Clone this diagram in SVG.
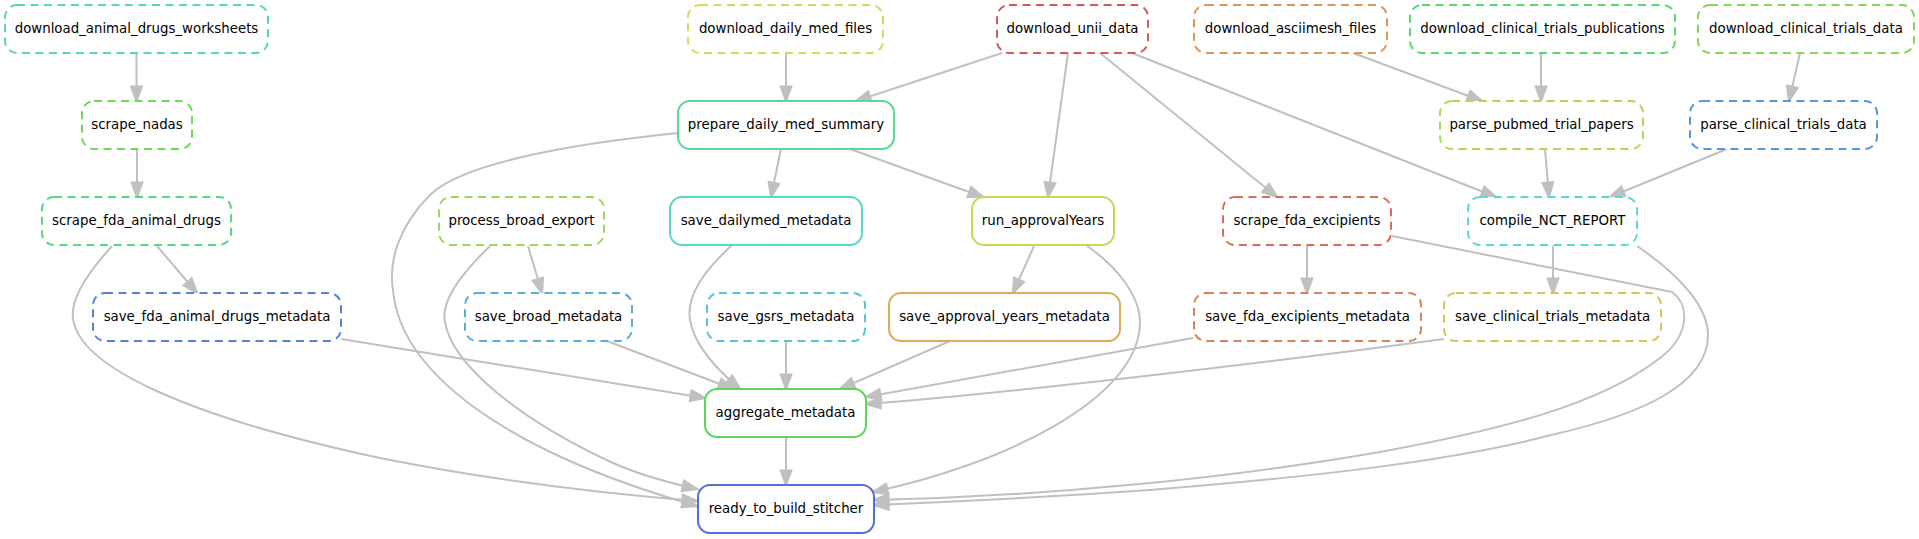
<svg xmlns="http://www.w3.org/2000/svg" width="1919" height="539" viewBox="0 0 1919 539">
<style>
.n rect{fill:#fff;stroke-width:2}
.d rect{stroke-dasharray:8,5.5}
.n text{font-family:"DejaVu Sans",sans-serif;font-size:13.33px;fill:#000;text-anchor:middle}
.e path{fill:none;stroke:#c0c0c0;stroke-width:2}
</style>
<defs>
<marker id="ah" markerUnits="userSpaceOnUse" markerWidth="20" markerHeight="20" refX="13" refY="0" orient="auto" viewBox="-2 -8 18 16" overflow="visible">
<polygon points="0,-4.7 13,0 0,4.7" fill="#c0c0c0" stroke="#c0c0c0" stroke-width="2"/>
</marker>
</defs>
<rect width="1919" height="539" fill="#fff"/>
<g id="edges" class="e" marker-end="url(#ah)">
<path d="M136.5,53 L136.5,101" marker-end="url(#ah)"/>
<path d="M137,149 L137,197" marker-end="url(#ah)"/>
<path d="M157,246 L197,293" marker-end="url(#ah)"/>
<path d="M112,246 C95,265 70,295 73,318 C78,365 180,415 380,458 C500,482 620,495 697,501" marker-end="url(#ah)"/>
<path d="M341,339 L705,398" marker-end="url(#ah)"/>
<path d="M528,246 L542,293" marker-end="url(#ah)"/>
<path d="M490,246 C465,270 440,300 445,322 C452,365 520,420 613,463 C640,475 670,483 697,489" marker-end="url(#ah)"/>
<path d="M607,341 L733,389" marker-end="url(#ah)"/>
<path d="M786,53 L786,101" marker-end="url(#ah)"/>
<path d="M1002,53 L856,101" marker-end="url(#ah)"/>
<path d="M1068,53 L1048,197" marker-end="url(#ah)"/>
<path d="M1100,53 L1277,197" marker-end="url(#ah)"/>
<path d="M1132,53 L1496,197" marker-end="url(#ah)"/>
<path d="M678,133 C560,145 460,165 430,195 C400,225 388,260 393,290 C400,370 500,450 697,506" marker-end="url(#ah)"/>
<path d="M781,149 L771,197" marker-end="url(#ah)"/>
<path d="M850,149 L983,197" marker-end="url(#ah)"/>
<path d="M732,245 C705,270 686,295 690,320 C694,345 715,368 740,389" marker-end="url(#ah)"/>
<path d="M786,341 L786,389" marker-end="url(#ah)"/>
<path d="M1034,246 L1013,293" marker-end="url(#ah)"/>
<path d="M1087,246 C1115,265 1140,295 1140,322 C1140,400 1000,465 873,492" marker-end="url(#ah)"/>
<path d="M950,341 L840,389" marker-end="url(#ah)"/>
<path d="M1353,53 L1482,101" marker-end="url(#ah)"/>
<path d="M1541,53 L1541,101" marker-end="url(#ah)"/>
<path d="M1800,53 L1789,101" marker-end="url(#ah)"/>
<path d="M1545,149 L1549,197" marker-end="url(#ah)"/>
<path d="M1727,149 L1610,197" marker-end="url(#ah)"/>
<path d="M1307,246 L1307,293" marker-end="url(#ah)"/>
<path d="M1392,236 L1672,292 C1690,305 1690,335 1660,358 C1600,405 1500,430 1380,452 C1230,478 1050,496 874,500" marker-end="url(#ah)"/>
<path d="M1193,338 L866,397" marker-end="url(#ah)"/>
<path d="M1553,246 L1553,293" marker-end="url(#ah)"/>
<path d="M1637,246 C1665,265 1708,300 1708,335 C1708,385 1640,415 1551,435 C1450,462 1300,478 1150,490 C1050,497 950,502 874,505" marker-end="url(#ah)"/>
<path d="M1444,339 C1250,365 1000,394 866,404" marker-end="url(#ah)"/>
<path d="M786,437 L786,485" marker-end="url(#ah)"/>
</g>
<g id="download_animal_drugs_worksheets" class="n d"><rect x="5" y="5" width="263" height="48" rx="12" stroke="#57d9ae"/><text x="136.5" y="33">download_animal_drugs_worksheets</text></g>
<g id="scrape_nadas" class="n d"><rect x="82" y="101" width="110" height="48" rx="12" stroke="#6dd957"/><text x="137" y="129">scrape_nadas</text></g>
<g id="scrape_fda_animal_drugs" class="n d"><rect x="42" y="197" width="189" height="48" rx="12" stroke="#57d982"/><text x="136.5" y="225">scrape_fda_animal_drugs</text></g>
<g id="save_fda_animal_drugs_metadata" class="n d"><rect x="93" y="293" width="248" height="48" rx="12" stroke="#5782d9"/><text x="217" y="321">save_fda_animal_drugs_metadata</text></g>
<g id="process_broad_export" class="n d"><rect x="439" y="197" width="165" height="48" rx="12" stroke="#98d957"/><text x="521.5" y="225">process_broad_export</text></g>
<g id="save_broad_metadata" class="n d"><rect x="465" y="293" width="167" height="48" rx="12" stroke="#57aed9"/><text x="548.5" y="321">save_broad_metadata</text></g>
<g id="download_daily_med_files" class="n d"><rect x="688" y="5" width="195" height="48" rx="12" stroke="#d9d957"/><text x="785.5" y="33">download_daily_med_files</text></g>
<g id="prepare_daily_med_summary" class="n"><rect x="678" y="101" width="216" height="48" rx="12" stroke="#57d998"/><text x="786" y="129">prepare_daily_med_summary</text></g>
<g id="save_dailymed_metadata" class="n"><rect x="670" y="197" width="192" height="48" rx="12" stroke="#57d9c3"/><text x="766" y="225">save_dailymed_metadata</text></g>
<g id="save_gsrs_metadata" class="n d"><rect x="707" y="293" width="158" height="48" rx="12" stroke="#57c3d9"/><text x="786" y="321">save_gsrs_metadata</text></g>
<g id="aggregate_metadata" class="n"><rect x="705" y="389" width="161" height="48" rx="12" stroke="#57d957"/><text x="785.5" y="417">aggregate_metadata</text></g>
<g id="ready_to_build_stitcher" class="n"><rect x="698" y="485" width="176" height="48" rx="12" stroke="#576dd9"/><text x="786" y="513">ready_to_build_stitcher</text></g>
<g id="download_unii_data" class="n d"><rect x="997" y="5" width="151" height="48" rx="12" stroke="#d95757"/><text x="1072.5" y="33">download_unii_data</text></g>
<g id="run_approvalYears" class="n"><rect x="972" y="197" width="142" height="48" rx="12" stroke="#c3d957"/><text x="1043" y="225">run_approvalYears</text></g>
<g id="save_approval_years_metadata" class="n"><rect x="889" y="293" width="231" height="48" rx="12" stroke="#d9ae57"/><text x="1004.5" y="321">save_approval_years_metadata</text></g>
<g id="download_asciimesh_files" class="n d"><rect x="1194" y="5" width="193" height="48" rx="12" stroke="#d99857"/><text x="1290.5" y="33">download_asciimesh_files</text></g>
<g id="scrape_fda_excipients" class="n d"><rect x="1223" y="197" width="168" height="48" rx="12" stroke="#d96d57"/><text x="1307" y="225">scrape_fda_excipients</text></g>
<g id="save_fda_excipients_metadata" class="n d"><rect x="1194" y="293" width="227" height="48" rx="12" stroke="#d98257"/><text x="1307.5" y="321">save_fda_excipients_metadata</text></g>
<g id="download_clinical_trials_publications" class="n d"><rect x="1410" y="5" width="265" height="48" rx="12" stroke="#57d96d"/><text x="1542.5" y="33">download_clinical_trials_publications</text></g>
<g id="download_clinical_trials_data" class="n d"><rect x="1698" y="5" width="216" height="48" rx="12" stroke="#82d957"/><text x="1806" y="33">download_clinical_trials_data</text></g>
<g id="parse_pubmed_trial_papers" class="n d"><rect x="1440" y="101" width="203" height="48" rx="12" stroke="#aed957"/><text x="1541.5" y="129">parse_pubmed_trial_papers</text></g>
<g id="parse_clinical_trials_data" class="n d"><rect x="1690" y="101" width="187" height="48" rx="12" stroke="#5798d9"/><text x="1783.5" y="129">parse_clinical_trials_data</text></g>
<g id="compile_NCT_REPORT" class="n d"><rect x="1468" y="197" width="169" height="48" rx="12" stroke="#57d9d9"/><text x="1552.5" y="225">compile_NCT_REPORT</text></g>
<g id="save_clinical_trials_metadata" class="n d"><rect x="1444" y="293" width="217" height="48" rx="12" stroke="#d9c357"/><text x="1552.5" y="321">save_clinical_trials_metadata</text></g>
</svg>
